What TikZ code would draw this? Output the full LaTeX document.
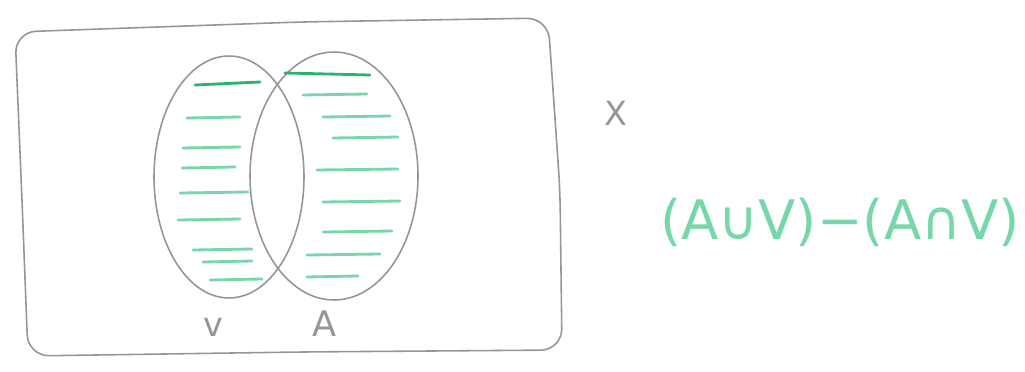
\documentclass[tikz,border=0pt]{standalone}
\usepackage{fontspec}
\setmainfont{DejaVu Sans}
\usetikzlibrary{shapes.geometric}
\definecolor{pencil}{RGB}{150,150,152}
\definecolor{mint}{RGB}{120,215,170}
\definecolor{deepmint}{RGB}{40,180,110}
\begin{document}
\begin{tikzpicture}[x=0.02cm,y=-0.02cm,
  pen/.style={draw=pencil,line width=0.9pt,line cap=round,line join=round},
  setshape/.style={pen,ellipse,inner sep=0pt},
  hatch/.style={draw=mint,line width=1.6pt,line cap=round},
  hatchdark/.style={draw=deepmint,line width=1.6pt,line cap=round},
  lbl/.style={text=pencil,inner sep=0pt}]
\useasboundingbox (0,0) rectangle (1025,372);
\fill[white] (0,0) rectangle (1025,372);
% universe
\draw[pen,rounded corners=12pt] (15,32) -- (300,22) -- (548,18) -- (560,190) -- (562,350) -- (300,352) -- (28,356) -- (22,200) -- cycle;
% sets
\node[setshape,minimum width=3cm,minimum height=4.84cm] (setv) at (229,177) {};
\node[setshape,minimum width=3.36cm,minimum height=4.96cm] (seta) at (334,176) {};
% hatching V only
\draw[hatchdark] (195,85) -- (260,82);
\foreach \y/\a/\b in {118/187/240, 148/183/240, 168/182/235, 193/180/248, 220/178/240, 250/193/252, 262/203/252, 280/210/262}
  \draw[hatch] (\a,\y) -- (\b,\y-1);
% hatching A only
\draw[hatchdark] (285,73) -- (370,75);
\foreach \y/\a/\b in {95/303/367, 117/323/390, 138/333/398, 170/317/398, 202/323/400, 232/323/392, 255/307/380, 277/307/358}
  \draw[hatch] (\a,\y) -- (\b,\y-1);
% labels
\node[lbl,font=\fontsize{19}{19}\selectfont] (v) at (213,327) {v};
\node[lbl,font=\fontsize{20}{20}\selectfont] (a) at (325,324) {A};
\node[lbl,font=\fontsize{19}{19}\selectfont] (x) at (616,113) {X};
\node[text=mint,inner sep=0pt,font=\fontsize{31}{34}\selectfont] (f) at (840,222) {(A∪V)−(A∩V)};
\end{tikzpicture}
\end{document}
